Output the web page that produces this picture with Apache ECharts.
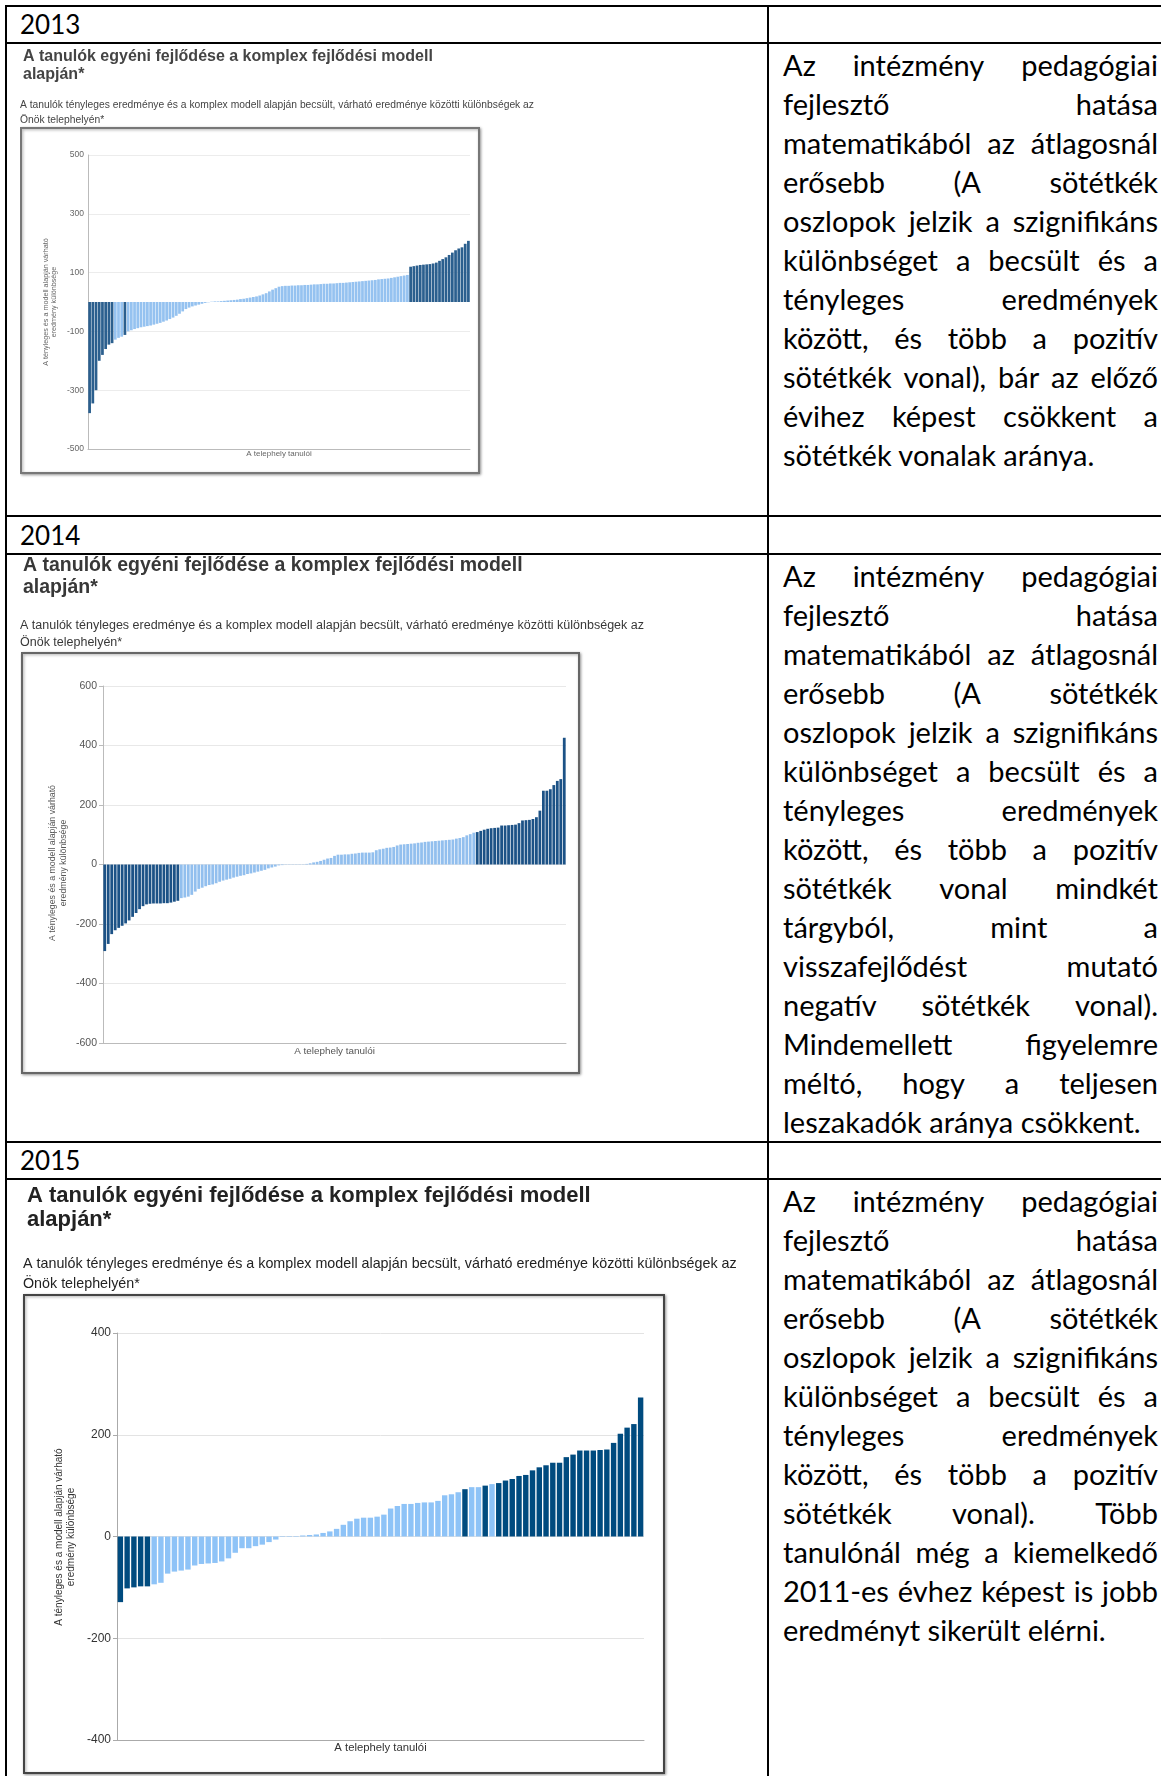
<!DOCTYPE html>
<html lang="hu">
<head>
<meta charset="utf-8">
<title>A tanulók egyéni fejlődése</title>
<script src="https://cdn.jsdelivr.net/npm/echarts@6.0.0/dist/echarts.min.js"></script>
<style>
  html, body { margin:0; padding:0; background:#fff; }
  body { position:relative; width:1161px; height:1776px; overflow:hidden; font-family: Lato, 'Noto Sans', sans-serif; color:#000; }
  .hl { position:absolute; left:5px; width:1156px; height:2px; background:#000; }
  .vl { position:absolute; top:5px; width:2px; height:1771px; background:#000; }
  .year { position:absolute; left:20px; font-size:26px; line-height:38px; height:38px; }
  .txt { position:absolute; left:783px; width:375px; font-size:29px; }
  .ln { height:39px; line-height:39px; display:flex; justify-content:space-between; white-space:nowrap; }
  .ln.last { display:block; }
  .chart { position:absolute; }
</style>
</head>
<body>
<div class="hl" style="top:5px"></div>
<div class="hl" style="top:42px"></div>
<div class="hl" style="top:515px"></div>
<div class="hl" style="top:553px"></div>
<div class="hl" style="top:1141px"></div>
<div class="hl" style="top:1178px"></div>
<div class="vl" style="left:5px"></div>
<div class="vl" style="left:767px"></div>

<div class="year" style="top:5px">2013</div>
<div class="year" style="top:516px">2014</div>
<div class="year" style="top:1141px">2015</div>

<div class="txt" id="t2013" style="top:45px"></div>
<div class="txt" id="t2014" style="top:556px"></div>
<div class="txt" id="t2015" style="top:1181px"></div>

<div class="chart" id="c2013" style="left:20px;top:44px;width:520px;height:440px"></div>
<div class="chart" id="c2014" style="left:20px;top:555px;width:640px;height:530px"></div>
<div class="chart" id="c2015" style="left:20px;top:1180px;width:740px;height:596px"></div>

<script>
// ---------------- data ----------------
const yTicks2013 = [-500, -300, -100, 100, 300, 500];
const yTicks2014 = [-600, -400, -200, 0, 200, 400, 600];
const yTicks2015 = [-400, -200, 0, 200, 400];

const values2013 = [
  -378, -345, -300, -200, -180, -160, -145, -140,
  -128, -122, -118, -112,
  -100, -96, -92, -89, -86, -84, -82, -80, -77, -74, -71, -67, -63, -58, -53, -47, -40, -32, -24, -19, -15, -12, -9, -6, -3, -1,
  1, 2, 2, 3, 4, 5, 6, 7, 8, 10, 11, 13, 15, 17, 19, 22, 26, 30, 36, 42, 47, 52,
  54, 55, 55, 56, 56, 57, 57, 58, 58, 59, 60, 60, 61, 62, 62, 63, 63, 64, 65, 65,
  66, 67, 68, 69, 70, 71, 72, 73, 74, 75, 77, 78, 79, 80, 82, 84, 86, 88, 90, 92,
  120, 122, 124, 126, 127, 128, 129, 131, 134, 140, 146, 152, 160, 168, 176, 182, 186, 198, 208
];
const signif2013 = [
  1,1,1,1,1,1,1,1,
  0,0,0,1,
  0,0,0,0,0,0,0,0,0,0,0,0,0,0,0,0,0,0,0,0,0,0,0,0,0,0,
  0,0,0,0,0,0,0,0,0,0,0,0,0,0,0,0,0,0,0,0,0,0,
  0,0,0,0,0,0,0,0,0,0,0,0,0,0,0,0,0,0,0,0,
  0,0,0,0,0,0,0,0,0,0,0,0,0,0,0,0,0,0,0,0,
  1,1,1,1,1,1,1,1,1,1,1,1,1,1,1,1,1,1,1
];

const values2014 = [
  -291, -267, -234, -221, -213, -206, -198, -188, -176, -163, -150, -140, -134, -132, -131, -131, -131, -130, -130, -128, -125, -122,
  -113, -111, -108, -102, -91, -82, -78, -73, -69, -67, -63, -58, -54, -51, -48, -44, -41, -38, -36, -32, -30, -27, -24, -21, -18, -13, -10, -7, -3,
  -2, -1, -1, -1, 1, 1, 1, 2,
  4, 7, 9, 12, 16, 20, 22, 29, 33, 33, 34, 34, 36, 37, 39, 40, 40, 40, 41, 48, 51, 53, 56, 57,
  59, 64, 67, 68, 69, 70, 71, 73, 74, 76, 77, 78, 79, 80, 81, 82, 83, 84, 87, 89, 92, 98, 102, 107,
  109, 113, 117, 120, 122, 123, 124, 131, 131, 132, 133, 134, 139, 148, 149, 150, 153, 159, 181, 248, 248, 253, 267, 281, 287, 426
];
const signif2014 = [
  1,1,1,1,1,1,1,1,1,1,1,1,1,1,1,1,1,1,1,1,1,1,
  0,0,0,0,0,0,0,0,0,0,0,0,0,0,0,0,0,0,0,0,0,0,0,0,0,0,0,0,0,
  0,0,0,0,0,0,0,0,
  0,0,0,0,0,0,0,0,0,0,0,0,0,0,0,0,0,0,0,0,0,0,0,0,
  0,0,0,0,0,0,0,0,0,0,0,0,0,0,0,0,0,0,0,0,0,0,0,0,
  1,1,1,1,1,1,1,1,1,1,1,1,1,1,1,1,1,1,1,1,1,1,1,1,1,1
];

const values2015 = [
  -129, -102, -100, -98, -98,
  -94, -91, -73, -69, -67, -65, -57, -54, -53, -52, -49, -43, -32, -23, -23, -19, -16, -11, -6, -1,
  1, 1, 2, 3, 4, 7, 10, 15, 23, 30, 35, 37, 37, 39,
  43, 55, 60, 64, 64, 66, 67, 67, 70, 81, 83, 87,
  93, 97, 97, 100, 103,
  105, 110, 113, 119, 121, 130, 136, 140, 145, 145, 156, 161, 169, 169, 169, 170, 171, 184, 202, 214, 221, 273
];
const signif2015 = [
  1,1,1,1,1,
  0,0,0,0,0,0,0,0,0,0,0,0,0,0,0,0,0,0,0,0,
  0,0,0,0,0,0,0,0,0,0,0,0,0,0,
  0,0,0,0,0,0,0,0,0,0,0,0,
  1,0,0,1,0,
  1,1,1,1,1,1,1,1,1,1,1,1,1,1,1,1,1,1,1,1,1,1
];

// ---------------- texts ----------------
const TITLE = 'A tanulók egyéni fejlődése a komplex fejlődési modell\nalapján*';
const SUBTITLE = 'A tanulók tényleges eredménye és a komplex modell alapján becsült, várható eredménye közötti különbségek az\nÖnök telephelyén*';
const Y_TITLE = 'A tényleges és a modell alapján várható\neredmény különbsége';
const X_TITLE = 'A telephely tanulói';

const notes2013 = [
  'Az intézmény pedagógiai',
  'fejlesztő hatása',
  'matematikából az átlagosnál',
  'erősebb (A sötétkék',
  'oszlopok jelzik a szignifikáns',
  'különbséget a becsült és a',
  'tényleges eredmények',
  'között, és több a pozitív',
  'sötétkék vonal), bár az előző',
  'évihez képest csökkent a',
  'sötétkék vonalak aránya.'
];
const notes2014 = [
  'Az intézmény pedagógiai',
  'fejlesztő hatása',
  'matematikából az átlagosnál',
  'erősebb (A sötétkék',
  'oszlopok jelzik a szignifikáns',
  'különbséget a becsült és a',
  'tényleges eredmények',
  'között, és több a pozitív',
  'sötétkék vonal mindkét',
  'tárgyból, mint a',
  'visszafejlődést mutató',
  'negatív sötétkék vonal).',
  'Mindemellett figyelemre',
  'méltó, hogy a teljesen',
  'leszakadók aránya csökkent.'
];
const notes2015 = [
  'Az intézmény pedagógiai',
  'fejlesztő hatása',
  'matematikából az átlagosnál',
  'erősebb (A sötétkék',
  'oszlopok jelzik a szignifikáns',
  'különbséget a becsült és a',
  'tényleges eredmények',
  'között, és több a pozitív',
  'sötétkék vonal). Több',
  'tanulónál még a kiemelkedő',
  '2011-es évhez képest is jobb',
  'eredményt sikerült elérni.'
];

function fillText(id, lines) {
  const box = document.getElementById(id);
  lines.forEach((line, i) => {
    const d = document.createElement('div');
    const last = i === lines.length - 1;
    d.className = 'ln' + (last ? ' last' : '');
    if (last) {
      d.textContent = line;
    } else {
      line.split(' ').forEach(w => {
        const s = document.createElement('span');
        s.textContent = w;
        d.appendChild(s);
      });
    }
    box.appendChild(d);
  });
}
fillText('t2013', notes2013);
fillText('t2014', notes2014);
fillText('t2015', notes2015);

// ---------------- charts ----------------
const FONT = "'Liberation Sans', Arial, sans-serif";

function drawChart(id, values, signif, ticks, L) {
  const el = document.getElementById(id);
  const chart = echarts.init(el, null, { renderer: 'canvas' });
  const categories = values.map((_, i) => String(i + 1));
  const min = ticks[0], max = ticks[ticks.length - 1];
  const n = Math.round((max - min) / L.step) + 1;
  const lineColors = [];
  for (let i = 0; i < n; i++) {
    lineColors.push(ticks.indexOf(min + i * L.step) >= 0 ? L.gridColor : 'rgba(0,0,0,0)');
  }
  const data = values.map((v, i) => ({
    value: v,
    itemStyle: { color: signif[i] ? L.dark : L.light }
  }));
  chart.setOption({
    animation: false,
    backgroundColor: 'transparent',
    title: [
      {
        text: TITLE, left: L.titleX, top: L.titleY, padding: 0,
        textStyle: { fontFamily: FONT, fontSize: L.titleSize, fontWeight: 'bold', lineHeight: L.titleLH, color: L.titleColor }
      },
      {
        text: SUBTITLE, left: L.subX, top: L.subY, padding: 0,
        textStyle: { fontFamily: FONT, fontSize: L.subSize, fontWeight: 'normal', lineHeight: L.subLH, color: L.titleColor }
      }
    ],
    graphic: [
      {
        type: 'rect', z: -10, silent: true,
        shape: { x: L.frame[0], y: L.frame[1], width: L.frame[2], height: L.frame[3] },
        style: { fill: '#fff', stroke: L.frameColor, lineWidth: 2, shadowBlur: 3, shadowColor: 'rgba(0,0,0,0.35)', shadowOffsetX: 1, shadowOffsetY: 1 }
      },
      {
        type: 'text', silent: true, x: L.yTitle[0], y: L.yTitle[1], rotation: Math.PI / 2,
        style: { text: Y_TITLE, fontFamily: FONT, fontSize: L.yTitleSize, lineHeight: L.yTitleLH, align: 'center', verticalAlign: 'middle', fill: L.axisText }
      }
    ],
    grid: { left: L.grid[0], top: L.grid[1], width: L.grid[2], height: L.grid[3], outerBoundsMode: 'none' },
    xAxis: {
      type: 'category', data: categories,
      axisLine: { onZero: false, lineStyle: { color: L.axisColor, width: 1 } },
      axisTick: { show: false }, axisLabel: { show: false }, splitLine: { show: false },
      name: X_TITLE, nameLocation: 'middle', nameGap: L.xNameGap,
      nameTextStyle: { fontFamily: FONT, fontSize: L.xTitleSize, color: L.axisText, verticalAlign: 'top' }
    },
    yAxis: {
      type: 'value', min: min, max: max, interval: L.step,
      axisLine: { show: true, lineStyle: { color: L.axisColor, width: 1 } },
      axisTick: { show: L.showTicks, length: 4, lineStyle: { color: L.axisColor } },
      axisLabel: {
        fontFamily: FONT, fontSize: L.labelSize, color: L.axisText, margin: L.labelMargin,
        formatter: v => (ticks.indexOf(v) >= 0 ? String(v) : '')
      },
      splitLine: { show: true, lineStyle: { color: lineColors, width: 1 } }
    },
    series: [{
      type: 'bar', data: data, barCategoryGap: L.gap
    }]
  });
}

drawChart('c2013', values2013, signif2013, yTicks2013, {
  titleX: 3, titleY: 4, titleSize: 16, titleLH: 18, titleColor: '#444',
  subX: 0, subY: 53.5, subSize: 10.3, subLH: 15,
  frame: [1, 84, 458, 345], frameColor: '#777',
  grid: [68, 111, 382, 294],
  yTitle: [30, 258], yTitleSize: 7.2, yTitleLH: 8.6,
  xTitleSize: 8, xNameGap: 1,
  labelSize: 8.5, labelMargin: 4, axisText: '#666', axisColor: '#bbb', gridColor: '#ececec',
  step: 100, showTicks: false,
  dark: '#2b5f8e', light: '#95c2f0', gap: '15%'
});

drawChart('c2014', values2014, signif2014, yTicks2014, {
  titleX: 3, titleY: 0, titleSize: 19.5, titleLH: 22, titleColor: '#383838',
  subX: 0, subY: 62.5, subSize: 12.5, subLH: 17,
  frame: [2, 98, 557, 420], frameColor: '#666',
  grid: [83, 131, 463, 357],
  yTitle: [38, 308], yTitleSize: 8.8, yTitleLH: 10.5,
  xTitleSize: 9.9, xNameGap: 3,
  labelSize: 10.5, labelMargin: 6, axisText: '#555', axisColor: '#bbb', gridColor: '#e8e8e8',
  step: 200, showTicks: true,
  dark: '#1c5286', light: '#92bfee', gap: '20%'
});

drawChart('c2015', values2015, signif2015, yTicks2015, {
  titleX: 7, titleY: 4, titleSize: 22, titleLH: 24, titleColor: '#222',
  subX: 3, subY: 74, subSize: 14.3, subLH: 20,
  frame: [4, 115, 640, 478], frameColor: '#444',
  grid: [97, 153, 527, 407],
  yTitle: [45, 357], yTitleSize: 10, yTitleLH: 12,
  xTitleSize: 11.3, xNameGap: 2,
  labelSize: 12, labelMargin: 6, axisText: '#333', axisColor: '#aaa', gridColor: '#e3e3e3',
  step: 200, showTicks: true,
  dark: '#004b7f', light: '#8ec3f7', gap: '20%'
});
</script>
</body>
</html>
